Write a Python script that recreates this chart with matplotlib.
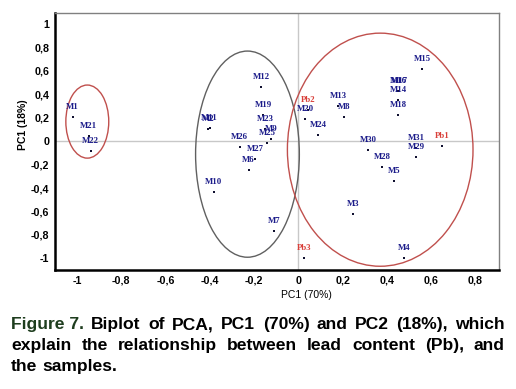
import matplotlib
matplotlib.use("Agg")
import matplotlib.pyplot as plt
from matplotlib.patches import Ellipse
from matplotlib.ticker import FuncFormatter

# ---- data ----
sample_names = ["M1", "M21", "M22", "M11", "M2", "M12", "M19", "M23", "M9", "M25",
                "M26", "M27", "M6", "M10", "M7", "M4", "M3", "M5", "M28", "M30",
                "M31", "M29", "M20", "M24", "M13", "M8", "M16", "M17", "M14", "M18", "M15"]
sample_pc1 = [-1.02, -0.947, -0.938, -0.401, -0.408, -0.167, -0.158, -0.149, -0.122, -0.14,
              -0.266, -0.194, -0.225, -0.383, -0.108, 0.478, 0.248, 0.433, 0.378, 0.315,
              0.532, 0.532, 0.032, 0.09, 0.18, 0.207, 0.451, 0.455, 0.451, 0.451, 0.56]
sample_pc2 = [0.205, 0.04, -0.085, 0.11, 0.103, 0.46, 0.22, 0.10, 0.017, -0.017,
              -0.05, -0.154, -0.25, -0.436, -0.77, -1.0, -0.62, -0.34, -0.22, -0.077,
              -0.06, -0.137, 0.19, 0.05, 0.30, 0.205, 0.43, 0.425, 0.35, 0.22, 0.62]

pb_names = ["Pb1", "Pb2", "Pb3"]
pb_pc1 = [0.65, 0.045, 0.027]
pb_pc2 = [-0.04, 0.27, -1.0]

# group ellipses: center x, center y, width, height
ell_cx = [-0.954, -0.23, 0.37]
ell_cy = [0.167, -0.111, -0.073]
ell_w = [0.194, 0.469, 0.839]
ell_h = [0.624, 1.76, 1.99]
ell_colors = ["#c0504d", "#606060", "#c0504d"]

x_ticks = [-1, -0.8, -0.6, -0.4, -0.2, 0, 0.2, 0.4, 0.6, 0.8]
y_ticks = [-1, -0.8, -0.6, -0.4, -0.2, 0, 0.2, 0.4, 0.6, 0.8, 1]

caption_lines = [
    [("Figure 7.", "#1e3d1e"), ("Biplot", "k"), ("of", "k"), ("PCA,", "k"), ("PC1", "k"),
     ("(70%)", "k"), ("and", "k"), ("PC2", "k"), ("(18%),", "k"), ("which", "k")],
    [("explain", "k"), ("the", "k"), ("relationship", "k"), ("between", "k"), ("lead", "k"),
     ("content", "k"), ("(Pb),", "k"), ("and", "k")],
    [("the", "k"), ("samples.", "k")],
]

# ---- figure ----
W, H = 516, 389
fig = plt.figure(figsize=(W / 100, H / 100), dpi=100)
ax = fig.add_axes([55 / W, 1 - 270 / H, (499 - 55) / W, (270 - 13) / H])
ax.set_xlim(-1.1, 0.907)
ax.set_ylim(-1.1, 1.094)

ax.axhline(0, color="#c8c8c8", lw=1.0, zorder=0)
ax.axvline(0, color="#c8c8c8", lw=1.0, zorder=0)

for cx, cy, w, h, c in zip(ell_cx, ell_cy, ell_w, ell_h, ell_colors):
    ax.add_patch(Ellipse((cx, cy), w, h, fill=False, edgecolor=c, lw=1.0, zorder=1))

ax.scatter(sample_pc1, sample_pc2, s=4, marker="s", color="#101030", zorder=3, linewidths=0)
ax.scatter(pb_pc1, pb_pc2, s=4, marker="s", color="#101030", zorder=3, linewidths=0)

lab_font = dict(family="Liberation Serif", fontweight="bold", fontsize=6.3)
for n, x, y in zip(sample_names, sample_pc1, sample_pc2):
    ax.annotate(n, (x, y), xytext=(0, 7.2), textcoords="offset points",
                ha="center", va="center", color="#1c1c8a", **lab_font)
for n, x, y in zip(pb_names, pb_pc1, pb_pc2):
    ax.annotate(n, (x, y), xytext=(0, 7.2), textcoords="offset points",
                ha="center", va="center", color="#d9403a", **lab_font)

fmt = FuncFormatter(lambda v, p: ("%g" % round(v, 2)).replace(".", ","))
ax.set_xticks(x_ticks)
ax.set_yticks(y_ticks)
ax.xaxis.set_major_formatter(fmt)
ax.yaxis.set_major_formatter(fmt)
ax.tick_params(length=0, pad=4, labelsize=7.7)
for lab in ax.get_xticklabels() + ax.get_yticklabels():
    lab.set_fontfamily("Liberation Sans")
    lab.set_fontweight("bold")

for s in ["left", "bottom"]:
    ax.spines[s].set_color("black")
    ax.spines[s].set_linewidth(1.8)
for s in ["top", "right"]:
    ax.spines[s].set_color("#808080")
    ax.spines[s].set_linewidth(1.0)

fig.text(306 / W, 1 - 295 / H, "PC1 (70%)", ha="center", va="center",
         fontsize=7.5, family="Liberation Sans")
fig.text(23 / W, 1 - 125 / H, "PC1 (18%)", ha="center", va="center", rotation=90,
         fontsize=7.5, family="Liberation Sans", fontweight="bold")

# ---- caption (justified) ----
fig.canvas.draw()
renderer = fig.canvas.get_renderer()
cap_font = dict(family="Liberation Sans", fontweight="bold", fontsize=12.6)
baselines = [329, 350, 371]
x_left, x_right = 11, 505
for i, (line, yb) in enumerate(zip(caption_lines, baselines)):
    texts = []
    for word, col in line:
        t = fig.text(0, 1 - yb / H, word, ha="left", va="baseline", color=col, **cap_font)
        texts.append(t)
    widths = [t.get_window_extent(renderer).width for t in texts]
    if i < len(caption_lines) - 1:
        gap = (x_right - x_left - sum(widths)) / (len(texts) - 1)
    else:
        sp = fig.text(0, 0, "a a", **cap_font)
        aa = fig.text(0, 0, "aa", **cap_font)
        gap = sp.get_window_extent(renderer).width - aa.get_window_extent(renderer).width
        sp.remove(); aa.remove()
    x = x_left
    for t, w in zip(texts, widths):
        t.set_x(x / W)
        x += w + gap

fig.savefig("out.png", dpi=100)
